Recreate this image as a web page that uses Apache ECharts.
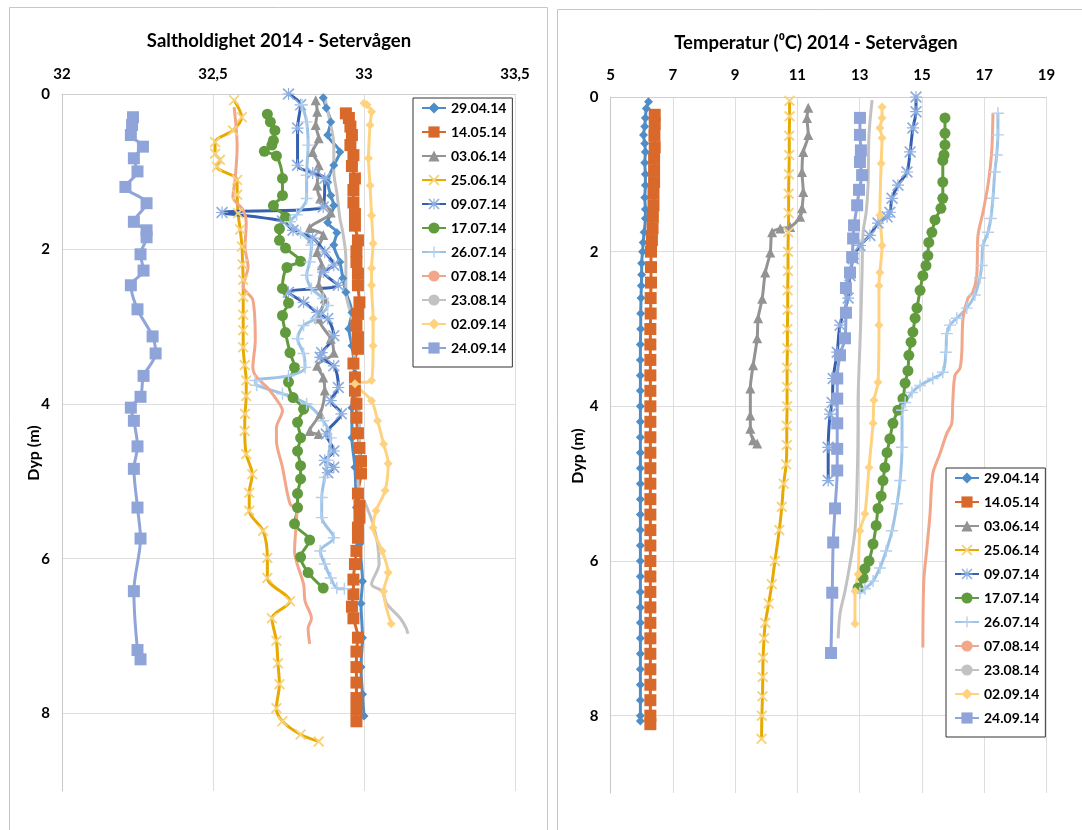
<!DOCTYPE html>
<html><head><meta charset="utf-8">
<script src="https://cdn.jsdelivr.net/npm/echarts@6/dist/echarts.min.js"></script>
<style>html,body{margin:0;padding:0;background:#fff}#c{width:1082px;height:830px}</style>
</head><body><div id="c"></div>
<script>
// ---------- data ----------
const dates = ['29.04.14','14.05.14','03.06.14','25.06.14','09.07.14','17.07.14','26.07.14','07.08.14','23.08.14','02.09.14','24.09.14'];
const salTitle = 'Saltholdighet 2014 - Setervågen';
const tempTitle = 'Temperatur (⁰C) 2014 - Setervågen';
const depthName = 'Dyp (m)';

// Salinity profiles: [salinity, depth]
const S_2904 = [[32.865,0.05],[32.875,0.18],[32.89,0.36],[32.88,0.53],[32.92,0.75],[32.90,0.92],[32.88,1.14],[32.89,1.31],[32.90,1.44],[32.88,1.66],[32.91,1.79],[32.90,1.95],[32.92,2.17],[32.93,2.38],[32.94,2.56],[32.96,2.82],[32.95,3.03],[32.96,3.25],[32.97,3.61],[32.96,4.05],[32.96,4.44],[32.97,4.82],[32.975,5.34],[32.985,5.81],[32.995,6.29],[32.99,6.58],[32.995,7.02],[32.99,7.4],[32.995,7.75],[33.0,8.03]];
const S_1405 = [[32.94,0.25],[32.95,0.31],[32.955,0.42],[32.96,0.53],[32.955,0.66],[32.965,0.79],[32.96,0.93],[32.97,1.09],[32.965,1.24],[32.965,1.40],[32.97,1.55],[32.97,1.70],[32.98,1.89],[32.975,2.03],[32.975,2.17],[32.98,2.32],[32.98,2.47],[32.985,2.69],[32.98,2.84],[32.975,2.99],[32.98,3.14],[32.98,3.29],[32.965,3.48],[32.97,3.66],[32.97,3.83],[32.975,4.0],[32.975,4.18],[32.98,4.38],[32.985,4.57],[32.99,4.74],[32.99,4.90],[32.98,5.16],[32.985,5.32],[32.985,5.47],[32.98,5.60],[32.98,5.73],[32.975,5.9],[32.97,6.07],[32.965,6.27],[32.965,6.46],[32.96,6.62],[32.965,6.77],[32.98,7.02],[32.975,7.2],[32.975,7.4],[32.975,7.6],[32.975,7.8],[32.975,7.95],[32.975,8.1]];
const S_0306 = [[32.84,0.08],[32.845,0.23],[32.84,0.40],[32.85,0.57],[32.83,0.75],[32.85,0.92],[32.845,1.18],[32.855,1.35],[32.89,1.53],[32.82,1.73],[32.865,1.82],[32.845,2.04],[32.86,2.21],[32.85,2.47],[32.87,2.64],[32.85,2.90],[32.89,3.16],[32.90,3.34],[32.845,3.51],[32.865,3.66],[32.87,3.83],[32.855,4.13],[32.82,4.35],[32.85,4.39]];
const S_2506 = [[32.57,0.08],[32.595,0.30],[32.566,0.47],[32.507,0.62],[32.507,0.77],[32.523,0.85],[32.513,0.94],[32.58,1.11],[32.58,1.3],[32.583,1.54],[32.59,1.75],[32.596,1.97],[32.598,2.2],[32.60,2.4],[32.60,2.62],[32.60,2.85],[32.60,3.05],[32.60,3.27],[32.605,3.5],[32.61,3.70],[32.61,3.9],[32.606,4.13],[32.605,4.35],[32.61,4.65],[32.63,4.91],[32.62,5.15],[32.62,5.38],[32.666,5.64],[32.68,5.99],[32.68,6.25],[32.755,6.55],[32.695,6.77],[32.71,7.06],[32.715,7.35],[32.72,7.62],[32.71,7.93],[32.73,8.10],[32.79,8.27],[32.85,8.36]];
const S_0907 = [[32.75,0.0],[32.79,0.14],[32.78,0.44],[32.78,0.92],[32.83,1.02],[32.87,1.09],[32.865,1.46],[32.53,1.53],[32.73,1.64],[32.765,1.76],[32.83,1.86],[32.87,2.04],[32.90,2.21],[32.865,2.30],[32.915,2.47],[32.75,2.56],[32.80,2.69],[32.845,2.82],[32.88,2.90],[32.90,3.12],[32.86,3.34],[32.855,3.40],[32.90,3.51],[32.915,3.79],[32.89,3.96],[32.925,4.13],[32.875,4.39],[32.90,4.61],[32.87,4.73],[32.90,4.82],[32.88,4.89]];
const S_1707 = [[32.68,0.26],[32.69,0.36],[32.705,0.47],[32.70,0.60],[32.695,0.66],[32.67,0.74],[32.71,0.80],[32.73,1.09],[32.73,1.31],[32.70,1.44],[32.74,1.59],[32.72,1.74],[32.72,1.89],[32.74,1.99],[32.79,2.16],[32.745,2.24],[32.73,2.51],[32.75,2.70],[32.73,2.86],[32.74,3.08],[32.755,3.34],[32.77,3.53],[32.75,3.72],[32.765,3.92],[32.80,4.07],[32.78,4.24],[32.79,4.44],[32.78,4.61],[32.79,4.80],[32.79,4.97],[32.78,5.16],[32.78,5.34],[32.77,5.55],[32.82,5.76],[32.79,5.98],[32.815,6.18],[32.865,6.38]];
const S_2607 = [[32.795,0.14],[32.81,0.36],[32.815,0.66],[32.81,1.05],[32.81,1.35],[32.777,1.56],[32.755,1.65],[32.79,1.79],[32.826,1.95],[32.82,2.17],[32.81,2.34],[32.826,2.51],[32.865,2.64],[32.88,2.73],[32.84,2.90],[32.80,2.99],[32.78,3.16],[32.80,3.35],[32.805,3.53],[32.75,3.64],[32.64,3.70],[32.645,3.76],[32.73,3.87],[32.81,4.0],[32.865,4.22],[32.89,4.44],[32.88,4.73],[32.87,4.95],[32.86,5.21],[32.86,5.47],[32.90,5.73],[32.855,5.90],[32.87,6.07],[32.89,6.25],[32.91,6.38],[32.935,6.39]];
const S_0708 = [[32.57,0.17],[32.58,0.68],[32.573,1.11],[32.566,1.33],[32.60,1.50],[32.61,1.67],[32.606,1.98],[32.616,2.23],[32.60,2.49],[32.632,2.66],[32.64,3.18],[32.632,3.53],[32.645,3.66],[32.68,3.79],[32.72,4.0],[32.73,4.09],[32.71,4.31],[32.71,4.47],[32.73,4.82],[32.755,5.29],[32.778,5.38],[32.77,5.90],[32.80,6.33],[32.805,6.55],[32.826,6.77],[32.815,6.90],[32.82,7.10]];
const S_2308 = [[32.87,0.05],[32.885,0.31],[32.90,0.66],[32.90,1.01],[32.91,1.27],[32.92,1.60],[32.93,1.79],[32.94,2.12],[32.94,2.56],[32.96,2.90],[32.965,3.25],[32.975,3.74],[32.985,4.18],[32.985,4.61],[32.98,5.03],[33.01,5.34],[33.03,5.55],[33.045,5.81],[33.05,6.07],[33.025,6.33],[33.06,6.42],[33.075,6.58],[33.12,6.77],[33.14,6.90],[33.145,6.97]];
const S_0209 = [[33.0,0.12],[33.01,0.14],[33.025,0.23],[33.02,0.40],[33.015,0.83],[33.02,1.18],[33.025,1.57],[33.03,1.93],[33.025,2.25],[33.025,2.47],[33.03,2.90],[33.03,3.25],[33.025,3.70],[32.97,3.74],[33.025,3.96],[33.045,4.22],[33.065,4.52],[33.08,4.77],[33.07,5.12],[33.04,5.38],[33.03,5.60],[33.06,5.90],[33.08,6.18],[33.065,6.42],[33.09,6.84]];
const S_2409 = [[32.235,0.30],[32.232,0.40],[32.228,0.53],[32.268,0.68],[32.238,0.83],[32.25,1.0],[32.21,1.2],[32.28,1.41],[32.238,1.65],[32.28,1.76],[32.28,1.85],[32.26,2.07],[32.27,2.28],[32.228,2.47],[32.25,2.78],[32.30,3.13],[32.31,3.35],[32.27,3.64],[32.26,3.91],[32.228,4.05],[32.238,4.22],[32.25,4.55],[32.238,4.84],[32.25,5.34],[32.26,5.74],[32.238,6.42],[32.25,7.18],[32.26,7.30]];

// Temperature profiles: [temperature, depth]
const T_2904 = [[6.22,0.06],[6.15,0.15],[6.12,0.27],[6.1,0.38],[6.06,0.49],[6.1,0.6],[6.12,0.71],[6.1,0.85],[6.12,1.0],[6.12,1.14],[6.1,1.3],[6.12,1.45],[6.12,1.57],[6.08,1.75],[6.05,1.88],[6.03,2.0],[6.0,2.15],[6.0,2.3],[5.99,2.44],[5.98,2.6],[5.97,2.8],[5.97,3.0],[5.96,3.2],[5.96,3.4],[5.96,3.6],[5.96,3.8],[5.96,4.0],[5.96,4.2],[5.96,4.4],[5.96,4.6],[5.96,4.8],[5.96,5.0],[5.96,5.2],[5.96,5.4],[5.96,5.6],[5.96,5.8],[5.96,6.0],[5.96,6.2],[5.96,6.4],[5.96,6.6],[5.96,6.8],[5.96,7.0],[5.96,7.2],[5.96,7.4],[5.96,7.6],[5.96,7.8],[5.96,8.0],[5.96,8.07]];
const T_1405 = [[6.42,0.23],[6.42,0.35],[6.41,0.5],[6.42,0.65],[6.4,0.8],[6.4,0.95],[6.4,1.1],[6.38,1.25],[6.38,1.4],[6.36,1.55],[6.35,1.7],[6.33,1.85],[6.3,2.0],[6.3,2.2],[6.3,2.4],[6.29,2.6],[6.29,2.8],[6.28,3.0],[6.28,3.2],[6.28,3.4],[6.28,3.6],[6.28,3.8],[6.28,4.0],[6.28,4.2],[6.28,4.4],[6.28,4.6],[6.28,4.8],[6.28,5.0],[6.28,5.2],[6.28,5.4],[6.28,5.6],[6.28,5.8],[6.28,6.0],[6.28,6.2],[6.28,6.4],[6.28,6.6],[6.28,6.8],[6.28,7.0],[6.28,7.2],[6.28,7.4],[6.28,7.6],[6.28,7.8],[6.28,8.0],[6.28,8.11]];
const T_0306 = [[11.35,0.14],[11.31,0.27],[11.35,0.49],[11.19,0.71],[11.15,0.97],[11.19,1.23],[11.15,1.44],[11.09,1.55],[10.77,1.68],[10.45,1.70],[10.19,1.75],[10.13,2.01],[9.97,2.27],[9.87,2.61],[9.74,2.86],[9.71,3.12],[9.58,3.47],[9.49,3.77],[9.49,4.12],[9.49,4.29],[9.58,4.44],[9.71,4.48]];
const T_2506 = [[10.75,0.05],[10.75,0.25],[10.74,0.5],[10.74,0.75],[10.73,1.0],[10.72,1.25],[10.72,1.5],[10.71,1.75],[10.7,2.0],[10.7,2.25],[10.69,2.5],[10.69,2.75],[10.68,3.0],[10.68,3.25],[10.67,3.5],[10.67,3.75],[10.67,4.0],[10.66,4.25],[10.66,4.5],[10.64,4.75],[10.56,5.0],[10.5,5.3],[10.42,5.6],[10.28,6.0],[10.18,6.3],[10.08,6.55],[9.97,6.8],[9.93,7.0],[9.9,7.25],[9.89,7.5],[9.88,7.75],[9.86,8.0],[9.85,8.3]];
const T_0907 = [[14.81,0.0],[14.81,0.19],[14.71,0.40],[14.62,0.71],[14.52,0.97],[14.23,1.14],[14.04,1.31],[13.97,1.49],[13.88,1.55],[13.59,1.63],[13.33,1.79],[13.01,1.92],[12.79,2.09],[12.69,2.31],[12.63,2.60],[12.37,2.95],[12.28,3.30],[12.15,3.64],[12.12,3.95],[12.05,4.10],[11.99,4.53],[11.99,4.96]];
const T_1707 = [[15.74,0.27],[15.74,0.47],[15.74,0.62],[15.71,0.75],[15.67,0.82],[15.67,1.10],[15.67,1.31],[15.61,1.44],[15.42,1.59],[15.32,1.75],[15.22,1.88],[15.19,2.05],[15.13,2.18],[15.03,2.31],[14.94,2.50],[14.84,2.73],[14.78,2.86],[14.71,3.04],[14.65,3.17],[14.58,3.34],[14.55,3.54],[14.46,3.70],[14.39,3.90],[14.23,4.05],[14.07,4.22],[13.97,4.42],[13.88,4.60],[13.81,4.79],[13.75,4.96],[13.69,5.16],[13.59,5.32],[13.53,5.54],[13.43,5.78],[13.30,6.0],[13.17,6.10],[13.11,6.22],[12.95,6.35]];
const T_2607 = [[17.44,0.21],[17.44,0.49],[17.40,0.75],[17.34,0.97],[17.28,1.31],[17.21,1.57],[17.12,1.75],[16.96,1.92],[16.92,2.18],[16.86,2.34],[16.70,2.56],[16.44,2.73],[16.12,2.86],[15.90,2.95],[15.80,3.06],[15.77,3.30],[15.67,3.56],[15.35,3.64],[14.94,3.73],[14.68,3.82],[14.46,3.95],[14.36,4.05],[14.36,4.53],[14.30,4.96],[14.20,5.26],[14.04,5.61],[13.85,5.87],[13.65,6.09],[13.43,6.26],[13.17,6.36],[13.01,6.41]];
const T_0708 = [[17.28,0.21],[17.24,0.71],[17.12,1.14],[16.96,1.49],[16.80,1.79],[16.76,2.31],[16.63,2.53],[16.48,2.60],[16.32,2.86],[16.28,3.30],[16.22,3.51],[16.06,3.60],[15.99,3.95],[15.96,4.22],[15.80,4.35],[15.58,4.61],[15.35,4.87],[15.26,5.39],[15.16,5.83],[15.06,6.26],[15.03,7.12]];
const T_2308 = [[13.40,0.04],[13.30,0.49],[13.27,1.14],[13.21,1.49],[13.11,1.75],[13.08,2.22],[13.04,2.86],[12.98,3.51],[12.95,3.95],[12.95,4.10],[12.92,4.96],[12.85,5.61],[12.69,6.04],[12.53,6.39],[12.37,6.68],[12.31,7.00]];
const T_0209 = [[13.72,0.13],[13.72,0.27],[13.65,0.40],[13.72,0.53],[13.69,0.86],[13.65,1.53],[13.72,1.92],[13.65,2.27],[13.62,2.44],[13.62,2.95],[13.59,3.69],[13.46,3.92],[13.43,4.22],[13.30,4.79],[13.17,5.39],[13.01,5.61],[12.95,6.17],[12.85,6.39],[12.85,6.81]];
const T_2409 = [[13.01,0.27],[13.01,0.49],[13.04,0.69],[13.01,0.84],[13.08,1.01],[12.98,1.20],[12.92,1.40],[12.82,1.66],[12.79,1.83],[12.76,2.07],[12.69,2.27],[12.56,2.47],[12.56,2.79],[12.53,3.12],[12.37,3.34],[12.28,3.64],[12.28,3.90],[12.28,4.22],[12.28,4.55],[12.28,4.83],[12.21,5.32],[12.15,5.76],[12.12,6.41],[12.08,7.19]];

const salSeries = [S_2904,S_1405,S_0306,S_2506,S_0907,S_1707,S_2607,S_0708,S_2308,S_0209,S_2409];
const tempSeries = [T_2904,T_1405,T_0306,T_2506,T_0907,T_1707,T_2607,T_0708,T_2308,T_0209,T_2409];

// ---------- styles ----------
const CROSS = 'path://M0,1.2 L1.2,0 L5,3.8 L8.8,0 L10,1.2 L6.2,5 L10,8.8 L8.8,10 L5,6.2 L1.2,10 L0,8.8 L3.8,5 Z';
const PLUS = 'path://M4.4,0 L5.6,0 L5.6,4.4 L10,4.4 L10,5.6 L5.6,5.6 L5.6,10 L4.4,10 L4.4,5.6 L0,5.6 L0,4.4 L4.4,4.4 Z';
const ASTER = 'path://M0,1 L1,0 L5,4 L9,0 L10,1 L6,5 L10,9 L9,10 L5,6 L1,10 L0,9 L4,5 Z M4.5,0 L5.5,0 L5.5,10 L4.5,10 Z M0,4.5 L10,4.5 L10,5.5 L0,5.5 Z';
const lineColors = ['#4E8DC8','#D9692A','#939393','#E8AA00','#3560B0','#629B3E','#9DC3E6','#F2A68A','#C2C2C2','#FFD27F','#8FA4D8'];
const markColors = ['#4E8DC8','#D9692A','#939393','#F5D27C','#8FAEE0','#629B3E','#B3D0EE','#F2A68A','#C2C2C2','#FFD27F','#8FA4D8'];
const symbols = ['diamond','rect','triangle',CROSS,ASTER,'circle',PLUS,'none','none','diamond','rect'];
const symSizes = [9,12,10,11,12,11,12,0,0,9,12];

const font = 'Lato, "Liberation Sans", sans-serif';
const series = [];
function addSeries(arr, idx) {
  arr.forEach((d, i) => {
    series.push({
      name: dates[i], type: 'line', xAxisIndex: idx, yAxisIndex: idx,
      data: d, smooth: 0.3,
      symbol: symbols[i], symbolSize: symSizes[i], showSymbol: symbols[i] !== 'none',
      lineStyle: {color: lineColors[i], width: 3},
      itemStyle: {color: markColors[i], borderWidth: 0},
      emphasis: {disabled: true}
    });
  });
}
addSeries(salSeries, 0);
addSeries(tempSeries, 1);

const axisLbl = {fontFamily: font, fontWeight: 'bold', fontSize: 15, color: '#000'};
const legendBase = {
  orient: 'vertical', data: dates, itemWidth: 24, itemHeight: 14, itemGap: 10,
  padding: [3, 6, 12, 8], borderColor: '#333', borderWidth: 1, backgroundColor: '#fff',
  textStyle: {fontFamily: font, fontWeight: 'bold', fontSize: 14, color: '#000'}, selectedMode: false
};

const chart = echarts.init(document.getElementById('c'), null, {renderer: 'canvas'});
chart.setOption({
  animation: false,
  backgroundColor: '#fff',
  grid: [
    {left: 62, top: 94, width: 453, height: 697},
    {left: 610.5, top: 97, width: 436, height: 696}
  ],
  xAxis: [
    {type: 'value', gridIndex: 0, position: 'top', min: 32, max: 33.5, interval: 0.5,
     axisLine: {show: true, lineStyle: {color: '#cfcfcf'}}, axisTick: {show: false},
     splitLine: {show: true, lineStyle: {color: '#dedede'}},
     axisLabel: Object.assign({margin: 12, formatter: v => String(v).replace('.', ',')}, axisLbl)},
    {type: 'value', gridIndex: 1, position: 'top', min: 5, max: 19, interval: 2,
     axisLine: {show: true, lineStyle: {color: '#cfcfcf'}}, axisTick: {show: false},
     splitLine: {show: true, lineStyle: {color: '#dedede'}},
     axisLabel: Object.assign({margin: 14}, axisLbl)}
  ],
  yAxis: [
    {type: 'value', gridIndex: 0, inverse: true, min: 0, max: 9, interval: 2,
     axisLine: {show: true, lineStyle: {color: '#c8c8c8'}}, axisTick: {show: false},
     splitLine: {show: true, showMaxLine: false, lineStyle: {color: '#dedede'}},
     axisLabel: Object.assign({margin: 12, showMaxLabel: false}, axisLbl)},
    {type: 'value', gridIndex: 1, inverse: true, min: 0, max: 9, interval: 2,
     axisLine: {show: true, lineStyle: {color: '#c8c8c8'}}, axisTick: {show: false},
     splitLine: {show: true, showMaxLine: false, lineStyle: {color: '#dedede'}},
     axisLabel: Object.assign({margin: 12, showMaxLabel: false}, axisLbl)}
  ],
  legend: [
    Object.assign({left: 413, top: 98}, legendBase),
    Object.assign({left: 946, top: 468}, legendBase)
  ],
  graphic: [
    {type: 'rect', shape: {x: 9.5, y: 7.5, width: 538, height: 840}, style: {fill: 'none', stroke: '#c6c6c6', lineWidth: 1}, silent: true, z: -10},
    {type: 'rect', shape: {x: 557.5, y: 9.5, width: 540, height: 840}, style: {fill: 'none', stroke: '#c6c6c6', lineWidth: 1}, silent: true, z: -10},
    {type: 'text', x: 279, y: 41, style: {text: salTitle, font: 'bold 18.5px ' + font, fill: '#000', align: 'center', verticalAlign: 'middle'}},
    {type: 'text', x: 816, y: 43, style: {text: tempTitle, font: 'bold 18.5px ' + font, fill: '#000', align: 'center', verticalAlign: 'middle'}},
    {type: 'text', x: 34, y: 453, rotation: Math.PI / 2, style: {text: depthName, font: 'bold 16px ' + font, fill: '#000', align: 'center', verticalAlign: 'middle'}},
    {type: 'text', x: 578, y: 456, rotation: Math.PI / 2, style: {text: depthName, font: 'bold 16px ' + font, fill: '#000', align: 'center', verticalAlign: 'middle'}}
  ],
  series: series
});
</script>
</body></html>
